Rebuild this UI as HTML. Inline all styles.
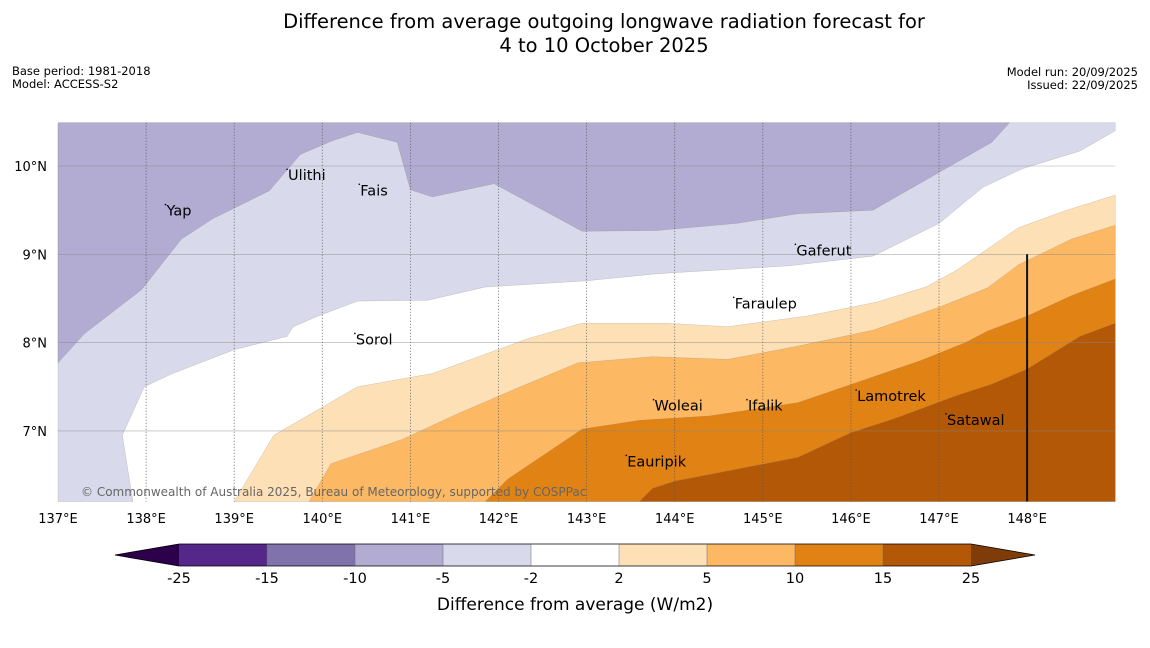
<!DOCTYPE html>
<html><head><meta charset="utf-8"><style>
body{margin:0;background:#fff;width:1150px;height:644px;overflow:hidden;font-family:"DejaVu Sans","Liberation Sans",sans-serif}
svg text{font-family:"DejaVu Sans","Liberation Sans",sans-serif}
</style></head><body>
<svg id="c" width="1150" height="644" xmlns="http://www.w3.org/2000/svg">
<text x="604" y="28" font-size="19.5" text-anchor="middle">Difference from average outgoing longwave radiation forecast for</text>
<text x="604" y="52" font-size="19.5" text-anchor="middle">4 to 10 October 2025</text>
<text x="12" y="75" font-size="11.5">Base period: 1981-2018</text>
<text x="12" y="88" font-size="11.5">Model: ACCESS-S2</text>
<text x="1138" y="76" font-size="11.5" text-anchor="end">Model run: 20/09/2025</text>
<text x="1138" y="89" font-size="11.5" text-anchor="end">Issued: 22/09/2025</text>
<g id="map"></g>
<g id="cbar"></g>
<text x="575" y="610" font-size="17" text-anchor="middle">Difference from average (W/m2)</text>
</svg>
<script>
const lonTicks=[137,138,139,140,141,142,143,144,145,146,147,148];
const latTicks=[7,8,9,10];
const levels=[-25,-15,-10,-5,-2,2,5,10,15,25];
const levelColors=["#542788","#8073ac","#b2abd2","#d8daeb","#ffffff","#fee0b6","#fdb863","#e08214","#b35806"];
const lavenderEdge=[[137.85,6.2],[137.73,6.95],[137.98,7.5],[138.3,7.65],[139.0,7.92],[139.6,8.07],[139.67,8.18],[139.95,8.3],[140.4,8.47],[141.2,8.48],[141.85,8.63],[143.0,8.7],[143.8,8.78],[145.3,8.87],[146.25,8.98],[147.0,9.35],[147.5,9.76],[147.95,9.97],[148.6,10.17],[149,10.4]];
const purpleEdge=[[137,7.77],[137.3,8.1],[137.95,8.6],[138.4,9.17],[138.75,9.4],[139.4,9.72],[139.75,10.13],[140.1,10.28],[140.4,10.38],[140.85,10.27],[141.0,9.73],[141.25,9.65],[141.95,9.8],[142.95,9.26],[143.8,9.27],[144.7,9.35],[145.4,9.46],[146.25,9.5],[146.9,9.87],[147.6,10.27],[147.8,10.49]];
const edge2=[[139.0,6.2],[139.45,6.95],[140.4,7.5],[141.25,7.65],[142.35,8.05],[142.95,8.22],[143.9,8.22],[144.6,8.18],[145.5,8.3],[146.3,8.46],[146.85,8.63],[147.2,8.82],[147.9,9.3],[148.45,9.5],[149,9.67]];
const edge5=[[139.85,6.2],[140.1,6.63],[140.9,6.9],[141.55,7.2],[142.25,7.5],[142.9,7.77],[143.75,7.84],[144.6,7.81],[145.35,7.95],[146.25,8.14],[147.0,8.4],[147.55,8.62],[147.9,8.88],[148.5,9.17],[149,9.33]];
const edge10=[[141.85,6.2],[142.1,6.45],[142.95,7.02],[143.6,7.12],[144.4,7.17],[145.4,7.32],[146.1,7.56],[146.8,7.8],[147.3,8.0],[147.55,8.13],[148.0,8.3],[148.5,8.53],[149,8.72]];
const edge15=[[143.6,6.2],[143.75,6.35],[144.0,6.43],[145.4,6.7],[146.0,6.98],[146.5,7.14],[147.2,7.4],[147.6,7.53],[148.0,7.7],[148.6,8.07],[149,8.22]];
const places=[["Yap",138.22,9.45],["Ulithi",139.6,9.85],["Fais",140.42,9.68],["Gaferut",145.37,9.0],["Faraulep",144.67,8.4],["Sorol",140.37,7.99],["Woleai",143.76,7.24],["Ifalik",144.82,7.24],["Lamotrek",146.06,7.35],["Satawal",147.08,7.08],["Eauripik",143.45,6.61]];
const X=lon=>58+(lon-137)*88.1, Y=lat=>166+(10-lat)*88.3;
const L0=137,L1=149,B0=6.2,B1=10.49;
const NS="http://www.w3.org/2000/svg";
const map=document.getElementById('map');
function mk(t,a,p){const e=document.createElementNS(NS,t);for(const k in a)e.setAttribute(k,a[k]);(p||map).appendChild(e);return e;}
const pts=a=>a.map(p=>X(p[0]).toFixed(1)+","+Y(p[1]).toFixed(1)).join(" ");
let bg=mk('rect',{x:X(L0),y:Y(B1),width:X(L1)-X(L0),height:Y(B0)-Y(B1),fill:"#fff"});


function region(poly,col,name){const e=mk('polygon',{points:pts(poly),fill:col,stroke:"#8a7a6a","stroke-width":"0.4","stroke-opacity":"0.5"});

}
region([[L0,B0]].concat(lavenderEdge,[[L1,B1],[L0,B1]]),levelColors[3],"region-minus5-minus2");
region(purpleEdge.concat([[L0,B1]]),levelColors[2],"region-minus10-minus5");
region(edge2.concat([[L1,B0]]),levelColors[5],"region-2-5");
region(edge5.concat([[L1,B0]]),levelColors[6],"region-5-10");
region(edge10.concat([[L1,B0]]),levelColors[7],"region-10-15");
region(edge15.concat([[L1,B0]]),levelColors[8],"region-15-25");
lonTicks.forEach(l=>{
 if(l>137&&l<148){const g=mk('line',{x1:X(l),x2:X(l),y1:Y(B1),y2:Y(B0),stroke:"#555","stroke-width":"0.8","stroke-dasharray":"1,2"});
 
 }
 const t=mk('text',{x:X(l),y:523,"font-size":"13","text-anchor":"middle"});t.textContent=l+"°E";
 
 
});
latTicks.forEach(l=>{
 const g=mk('line',{x1:X(L0),x2:X(L1),y1:Y(l),y2:Y(l),stroke:"#888","stroke-width":"0.6","stroke-opacity":"0.7"});
 
 
 const t=mk('text',{x:47,y:Y(l)+5,"font-size":"13","text-anchor":"end"});t.textContent=l+"°N";
 
 
});
let bl=mk('line',{x1:X(148),x2:X(148),y1:Y(9),y2:Y(B0),stroke:"#111","stroke-width":"2"});


places.forEach(p=>{
 const d=mk('circle',{cx:X(p[1]),cy:Y(p[2])-10,r:0.8,fill:"#000"});
 
 
 const t=mk('text',{x:X(p[1])+1,y:Y(p[2])+1,"font-size":"14.5"});t.textContent=p[0];
 
 
});
let cp=mk('text',{x:81,y:496,"font-size":"12",fill:"#666"});cp.textContent="© Commonwealth of Australia 2025, Bureau of Meteorology, supported by COSPPac";


// colorbar
const cb=document.getElementById('cbar');
const cx=i=>179+i*88, cy0=544, cy1=566;
for(let i=0;i<levelColors.length;i++){
 const r=mk('rect',{x:cx(i),y:cy0,width:88,height:cy1-cy0,fill:levelColors[i]},cb);
 
 
}
let tl=mk('polygon',{points:`115,555 ${cx(0)},${cy0} ${cx(0)},${cy1}`,fill:"#2d004b"},cb);


let tr=mk('polygon',{points:`1035,555 ${cx(9)},${cy0} ${cx(9)},${cy1}`,fill:"#7f3b08"},cb);


let ol=mk('polygon',{points:`115,555 ${cx(0)},${cy0} ${cx(9)},${cy0} 1035,555 ${cx(9)},${cy1} ${cx(0)},${cy1}`,fill:"none",stroke:"#000","stroke-width":"0.8"},cb);


levels.forEach((v,i)=>{
 const t=mk('text',{x:cx(i),y:583,"font-size":"14.5","text-anchor":"middle"},cb);t.textContent=v;
 
 
 if(i>0&&i<9){const s=mk('line',{x1:cx(i),x2:cx(i),y1:cy0,y2:cy1,stroke:"#666","stroke-width":"0.5"},cb);
 
 }
});
</script>
</body></html>
